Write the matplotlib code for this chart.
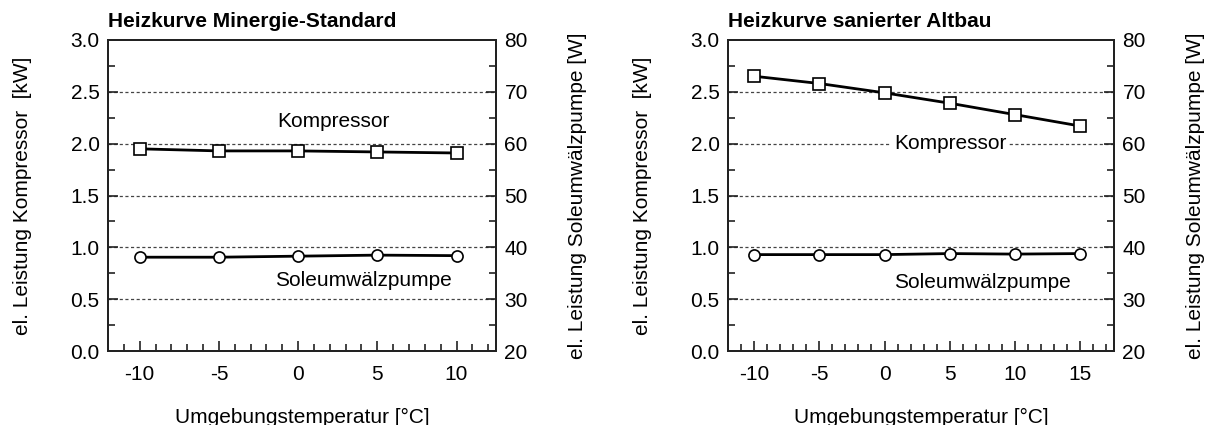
import matplotlib
matplotlib.use("Agg")
import matplotlib.pyplot as plt
from matplotlib.ticker import MultipleLocator

plt.rcParams['font.family'] = ['Liberation Sans', 'DejaVu Sans']

# data
temp_minergie = [-10, -5, 0, 5, 10]
kompressor_minergie = [1.95, 1.93, 1.93, 1.92, 1.91]      # kW
pumpe_minergie = [38.1, 38.1, 38.3, 38.5, 38.4]           # W

temp_altbau = [-10, -5, 0, 5, 10, 15]
kompressor_altbau = [2.65, 2.58, 2.49, 2.39, 2.28, 2.17]  # kW
pumpe_altbau = [38.6, 38.6, 38.6, 38.8, 38.7, 38.8]       # W

titles = ["Heizkurve Minergie-Standard", "Heizkurve sanierter Altbau"]
xlabel = "Umgebungstemperatur [°C]"
ylabel_left = "el. Leistung Kompressor  [kW]"
ylabel_right = "el. Leistung Soleumwälzpumpe [W]"

fs = 15
fig = plt.figure(figsize=(12.1, 4.25), dpi=100)


def style_ticks(ax):
    ax.tick_params(which='both', direction='in', labelsize=fs, width=1.2, color='#222222')
    ax.tick_params(which='major', length=7)
    ax.tick_params(which='minor', length=5)
    for s in ax.spines.values():
        s.set_linewidth(1.4)
        s.set_color('#222222')


def panel(rect, temps, komp, pumpe, title, xlim, xticks, komp_pos, pumpe_pos, komp_bg):
    ax = fig.add_axes(rect)
    ax.set_xlim(*xlim)
    ax.set_ylim(0, 3.0)
    ax.set_xticks(xticks)
    ax.set_xticklabels([str(t) for t in xticks])
    ax.xaxis.set_minor_locator(MultipleLocator(1))
    ax.set_yticks([0.0, 0.5, 1.0, 1.5, 2.0, 2.5, 3.0])
    ax.set_yticklabels([f"{v:.1f}" for v in [0.0, 0.5, 1.0, 1.5, 2.0, 2.5, 3.0]])
    ax.yaxis.set_minor_locator(MultipleLocator(0.25))
    for g in [0.5, 1.0, 1.5, 2.0, 2.5]:
        ax.axhline(g, color='#444444', lw=0.9, ls=(0, (2.5, 2)), zorder=1)
    style_ticks(ax)
    ax.tick_params(axis='x', pad=10)
    ax.tick_params(axis='y', pad=6)

    ax.plot(temps, komp, color='black', lw=2.0, marker='s', ms=8,
            mfc='white', mec='black', mew=1.2, zorder=4)

    ax2 = ax.twinx()
    ax2.set_ylim(20, 80)
    ax2.set_yticks([20, 30, 40, 50, 60, 70, 80])
    ax2.yaxis.set_minor_locator(MultipleLocator(5))
    style_ticks(ax2)
    ax2.tick_params(axis='y', pad=6)
    ax2.plot(temps, pumpe, color='black', lw=2.0, marker='o', ms=8,
             mfc='white', mec='black', mew=1.2, zorder=4)

    bbox = dict(facecolor='white', edgecolor='none', pad=2) if komp_bg else None
    ax.text(komp_pos[0], komp_pos[1], "Kompressor", fontsize=fs, ha='center',
            va='center', bbox=bbox, zorder=5)
    ax.text(pumpe_pos[0], pumpe_pos[1], "Soleumwälzpumpe", fontsize=fs,
            ha='center', va='center', zorder=5)

    ax.set_xlabel(xlabel, fontsize=fs, labelpad=17)
    ax.set_ylabel(ylabel_left, fontsize=fs, labelpad=28)
    ax2.set_ylabel(ylabel_right, fontsize=fs, labelpad=29)
    ax.set_title(title, fontsize=fs, fontweight='bold', loc='left', pad=9)
    return ax, ax2


panel([0.0893, 0.174, 0.3207, 0.732], temp_minergie, kompressor_minergie,
      pumpe_minergie, titles[0], (-12, 12.5), [-10, -5, 0, 5, 10],
      (2.2, 2.21), (4.1, 0.685), False)

panel([0.6017, 0.174, 0.319, 0.732], temp_altbau, kompressor_altbau,
      pumpe_altbau, titles[1], (-12, 17.6), [-10, -5, 0, 5, 10, 15],
      (5.05, 2.0), (7.5, 0.665), True)

fig.savefig("out.png", dpi=100)
